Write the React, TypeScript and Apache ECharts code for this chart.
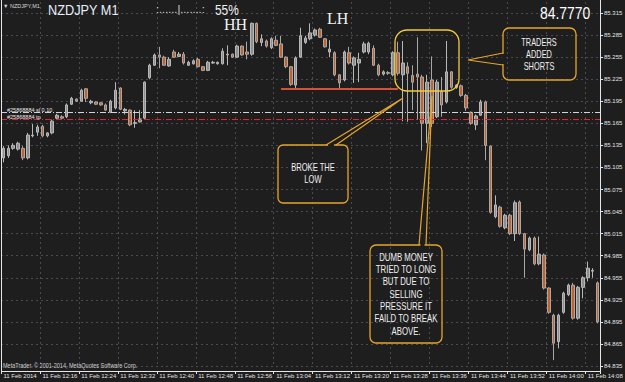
import React, { useEffect, useRef } from 'react';
import * as echarts from 'echarts';

const BG = '#1e1e1e';
const GRIDC = '#4a4a52';

// minute categories, 11 Feb 2014
const times = [
  '12:08','12:09','12:10','12:11','12:12','12:13','12:14','12:15','12:16','12:17',
  '12:18','12:19','12:20','12:21','12:22','12:23','12:24','12:25','12:26','12:27',
  '12:28','12:29','12:30','12:31','12:32','12:33','12:34','12:35','12:36','12:37',
  '12:38','12:39','12:40','12:41','12:42','12:43','12:44','12:45','12:46','12:47',
  '12:48','12:49','12:50','12:51','12:52','12:53','12:54','12:55','12:56','12:57',
  '12:58','12:59','13:00','13:01','13:02','13:03','13:04','13:05','13:06','13:07',
  '13:08','13:09','13:10','13:11','13:12','13:13','13:14','13:15','13:16','13:17',
  '13:18','13:19','13:20','13:21','13:22','13:23','13:24','13:25','13:26','13:27',
  '13:28','13:29','13:30','13:31','13:32','13:33','13:34','13:35','13:36','13:37',
  '13:38','13:39','13:40','13:41','13:42','13:43','13:44','13:45','13:46','13:47',
  '13:48','13:49','13:50','13:51','13:52','13:53','13:54','13:55','13:56','13:57',
  '13:58','13:59','14:00','14:01','14:02','14:03','14:04','14:05','14:06','14:07',
  '14:08','14:09','14:10',
];

const opens = [
  85.118,85.121,85.131,85.130,85.131,85.118,85.148,85.153,85.161,85.148,
  85.152,85.172,85.174,85.174,85.191,85.198,85.195,85.212,85.193,85.194,
  85.193,85.190,85.180,85.186,85.213,85.182,85.183,85.165,85.167,85.172,
  85.227,85.244,85.258,85.255,85.243,85.262,85.256,85.259,85.244,85.246,
  85.252,85.242,85.237,85.247,85.246,85.246,85.258,85.259,85.255,85.270,
  85.262,85.259,85.301,85.275,85.277,85.268,85.278,85.273,85.255,85.242,
  85.217,85.255,85.275,85.280,85.285,85.293,85.280,85.262,85.261,85.231,
  85.224,85.261,85.244,85.247,85.262,85.262,85.267,85.244,85.232,85.234,
  85.231,85.261,85.231,85.242,85.230,85.232,85.228,85.165,85.224,85.174,
  85.208,85.194,85.235,85.214,85.216,85.203,85.180,85.163,85.176,85.194,
  85.134,85.038,85.051,85.023,85.040,85.015,85.058,85.015,84.993,85.009,
  84.974,84.986,84.941,84.904,84.868,84.908,84.932,84.945,84.900,84.942,
  84.955,84.964,84.948,
];
const highs = [
  85.134,85.135,85.138,85.140,85.134,85.152,85.164,85.163,85.163,85.153,
  85.170,85.178,85.176,85.192,85.201,85.199,85.212,85.213,85.197,85.195,
  85.194,85.192,85.197,85.221,85.214,85.186,85.184,85.183,85.183,85.222,
  85.246,85.260,85.269,85.257,85.255,85.265,85.262,85.262,85.250,85.252,
  85.254,85.243,85.250,85.250,85.249,85.267,85.271,85.260,85.272,85.271,
  85.276,85.302,85.302,85.286,85.279,85.282,85.284,85.284,85.256,85.243,
  85.256,85.295,85.284,85.301,85.294,85.295,85.281,85.278,85.263,85.232,
  85.264,85.269,85.256,85.261,85.276,85.276,85.271,85.246,85.237,85.236,
  85.263,85.276,85.277,85.248,85.244,85.282,85.231,85.231,85.256,85.224,
  85.228,85.277,85.236,85.218,85.218,85.205,85.181,85.177,85.197,85.196,
  85.135,85.067,85.053,85.042,85.042,85.060,85.060,85.016,85.011,85.011,
  85.011,84.988,84.942,84.906,84.906,84.936,84.947,84.948,84.944,84.957,
  84.977,84.968,84.950,
];
const lows = [
  85.112,85.118,85.129,85.128,85.115,85.116,85.146,85.148,85.146,85.146,
  85.150,85.170,85.171,85.172,85.190,85.194,85.194,85.194,85.191,85.190,
  85.189,85.182,85.179,85.184,85.183,85.177,85.161,85.159,85.166,85.170,
  85.225,85.243,85.240,85.243,85.242,85.254,85.255,85.245,85.243,85.245,
  85.241,85.236,85.236,85.246,85.245,85.245,85.244,85.254,85.254,85.257,
  85.252,85.257,85.274,85.270,85.268,85.266,85.270,85.254,85.240,85.216,
  85.213,85.254,85.273,85.278,85.283,85.281,85.268,85.255,85.229,85.213,
  85.222,85.245,85.220,85.221,85.260,85.259,85.243,85.229,85.230,85.231,
  85.229,85.230,85.168,85.167,85.183,85.170,85.128,85.138,85.160,85.172,
  85.174,85.192,85.212,85.212,85.201,85.182,85.163,85.156,85.175,85.115,
  85.042,85.036,85.023,85.021,85.013,85.005,85.013,84.955,84.991,84.972,
  84.972,84.939,84.906,84.843,84.859,84.906,84.930,84.898,84.898,84.927,
  84.950,84.955,84.893,
];
const closes = [
  85.131,85.131,85.135,85.138,85.118,85.149,85.149,85.160,85.148,85.152,
  85.168,85.176,85.172,85.190,85.199,85.195,85.210,85.199,85.195,85.191,
  85.190,85.183,85.195,85.210,85.184,85.184,85.163,85.166,85.171,85.221,
  85.244,85.258,85.255,85.244,85.252,85.255,85.259,85.247,85.248,85.250,
  85.242,85.237,85.248,85.248,85.248,85.263,85.259,85.255,85.270,85.258,
  85.259,85.301,85.276,85.280,85.270,85.280,85.271,85.255,85.242,85.218,
  85.254,85.284,85.281,85.288,85.292,85.282,85.269,85.266,85.231,85.220,
  85.262,85.247,85.254,85.252,85.273,85.274,85.244,85.231,85.235,85.233,
  85.261,85.233,85.247,85.233,85.221,85.228,85.165,85.221,85.165,85.221,
  85.190,85.235,85.214,85.217,85.203,85.186,85.165,85.175,85.194,85.135,
  85.044,85.054,85.025,85.040,85.015,85.057,85.015,84.994,85.009,84.974,
  84.987,84.941,84.908,84.866,84.904,84.934,84.945,84.900,84.942,84.955,
  84.968,84.965,84.895,
];

// price axis
const priceMin = 84.835;
const priceMax = 85.33;
const priceStep = 0.03;

// horizontal levels
const orderPrice = 85.1773;
const stopPrice = 85.1705;
const supportPrice = 85.2117;
const supportFrom = '13:05';
const supportTo = '13:29';

const SANS = "'Liberation Sans', Arial, sans-serif";
const SERIF = "'Liberation Serif', 'Times New Roman', serif";
const YEL = '#f2cc3a';
const ORG = '#e6a52a';

function txt(text: string, x: number, y: number, size: number, o: any = {}) {
  return {
    type: 'text',
    x,
    y,
    scaleX: o.sx ?? 1,
    z: 110,
    silent: true,
    style: {
      text,
      fill: o.fill ?? '#f0f0f0',
      fontSize: size,
      fontFamily: o.family ?? SANS,
      fontWeight: o.weight ?? 'normal',
      align: o.align ?? 'left',
      textAlign: o.align ?? 'left',
      verticalAlign: 'middle',
      textVerticalAlign: 'middle',
    },
  };
}

function box(x: number, y: number, w: number, h: number, r: number, color: string) {
  return {
    type: 'rect',
    z: 100,
    silent: true,
    shape: { x, y, width: w, height: h, r },
    style: { fill: 'none', stroke: color, lineWidth: 1.3 },
  };
}

function eraser(x1: number, y1: number, x2: number, y2: number) {
  return { type: 'line', z: 101, silent: true, shape: { x1, y1, x2, y2 }, style: { stroke: BG, lineWidth: 2.5 } };
}

function pointer(points: number[][], color: string) {
  return { type: 'polyline', z: 102, silent: true, shape: { points }, style: { fill: 'none', stroke: color, lineWidth: 1.2 } };
}

function frameLine(x1: number, y1: number, x2: number, y2: number) {
  return { type: 'line', z: 90, silent: true, shape: { x1, y1, x2, y2 }, style: { stroke: '#e6e6e6', lineWidth: 1 } };
}

export default function App() {
  const ref = useRef<HTMLDivElement>(null);

  useEffect(() => {
    document.body.style.margin = '0';
    const chart = echarts.init(ref.current as HTMLDivElement, null, { renderer: 'svg' });

    const data = opens.map((o, i) => [o, closes[i], lows[i], highs[i]]);

    const dumbLines = ['DUMB MONEY', 'TRIED TO LONG', 'BUT DUE TO', 'SELLING', 'PRESSURE IT', 'FAILD TO BREAK', 'ABOVE.'];

    const elements: any[] = [
      frameLine(1.5, 0, 1.5, 371.5),
      frameLine(1.5, 371.5, 600.5, 371.5),
      frameLine(600.5, 0, 600.5, 371.5),
      txt('\u25BC NZDJPY,M1', 3, 6, 5.5, { fill: '#d8d8d8' }),
      txt('NZDJPY M1', 48, 10, 15, { sx: 0.85, fill: '#e6eefa' }),
      txt(':......|.......:', 156, 9, 11, { fill: '#d8d8d8' }),
      txt('55%', 215, 10, 14, { sx: 0.85, fill: '#f0f0f0' }),
      txt('84.7770', 540, 13, 16, { sx: 0.87, fill: '#ffffff' }),
      txt('HH', 224, 24, 16, { family: SERIF, fill: '#f2f2f2' }),
      txt('LH', 327, 18.5, 16, { family: SERIF, fill: '#f2f2f2' }),
      txt('#25868884 sl 0.10', 7, 110, 5.5, { fill: '#e8e8e8' }),
      txt('#25868884 tp', 7, 116.5, 5.5, { fill: '#e8e8e8' }),
      txt('MetaTrader. \u00A9 2001-2014, MetaQuotes Software Corp.', 3, 365.5, 6.5, { sx: 0.85, fill: '#d0d0d0' }),
      // candle highlight
      box(395, 30, 64, 61, 12, YEL),
      // TRADERS ADDED SHORTS
      box(503, 28, 73, 52, 6, ORG),
      eraser(503, 54, 503, 64),
      pointer([[503, 53], [468, 60], [503, 65]], ORG),
      txt('TRADERS', 539, 42.5, 10, { align: 'center', sx: 0.74 }),
      txt('ADDED', 539, 54.5, 10, { align: 'center', sx: 0.74 }),
      txt('SHORTS', 539, 66.5, 10, { align: 'center', sx: 0.74 }),
      // BROKE THE LOW
      box(278, 145, 70, 58, 5, ORG),
      eraser(328, 145, 334, 145),
      pointer([[326, 145], [403, 98], [336, 145]], ORG),
      txt('BROKE THE', 313, 167.5, 10, { align: 'center', sx: 0.76 }),
      txt('LOW', 313, 179.5, 10, { align: 'center', sx: 0.76 }),
      // DUMB MONEY
      box(370, 245, 72, 98, 6, ORG),
      eraser(420.5, 245, 424.5, 245),
      pointer([[419, 245], [432, 96], [426, 245]], ORG),
      ...dumbLines.map((t, i) => txt(t, 406, 257.5 + i * 12.3, 10, { align: 'center', sx: 0.78 })),
    ];

    const option: any = {
      animation: false,
      backgroundColor: BG,
      grid: { left: 1, right: 25, top: 2, bottom: 16, containLabel: false, outerBoundsMode: 'none' },
      xAxis: {
        type: 'category',
        data: times,
        boundaryGap: true,
        offset: 5,
        axisLine: { show: false },
        axisTick: { show: true, interval: 7, length: 3, lineStyle: { color: '#e6e6e6' } },
        axisLabel: {
          interval: 7,
          hideOverlap: false,
          color: '#e4e4e4',
          fontSize: 6,
          fontFamily: SANS,
          align: 'left',
          margin: 2,
          formatter: (v: string, i: number) => (i === 0 ? '11 Feb 2014' : '11 Feb ' + v),
        },
        splitLine: { show: true, interval: 7, lineStyle: { color: GRIDC, type: [2, 3], width: 1 } },
      },
      yAxis: {
        type: 'value',
        position: 'right',
        min: priceMin,
        max: priceMax,
        interval: priceStep,
        scale: true,
        axisLine: { show: false },
        axisTick: { show: true, length: 3, lineStyle: { color: '#e6e6e6' } },
        axisLabel: {
          hideOverlap: false,
          color: '#e4e4e4',
          fontSize: 6,
          fontFamily: SANS,
          margin: 4,
          showMaxLabel: false,
          formatter: (v: number) => v.toFixed(3),
        },
        splitLine: { show: true, showMaxLine: false, lineStyle: { color: GRIDC, type: [2, 3], width: 1 } },
      },
      series: [
        {
          type: 'candlestick',
          data,
          barWidth: 3,
          itemStyle: {
            color: '#8e8e8e',
            color0: '#c4622a',
            borderColor: '#b8b8b8',
            borderColor0: '#a8a8a8',
            borderWidth: 1,
          },
          markLine: {
            silent: true,
            symbol: ['none', 'none'],
            label: { show: false },
            data: [
              { yAxis: orderPrice, lineStyle: { color: '#d4d4d4', type: [6, 2, 1, 2], width: 1 } },
              { yAxis: stopPrice, lineStyle: { color: '#e3232a', type: [6, 2, 1, 2], width: 1 } },
              [
                { coord: [supportFrom, supportPrice], lineStyle: { color: '#d6503a', type: 'solid', width: 2 } },
                { coord: [supportTo, supportPrice], lineStyle: { color: '#d6503a', type: 'solid', width: 2 } },
              ],
            ],
          },
        },
      ],
      graphic: { elements },
    };

    chart.setOption(option);
    return () => chart.dispose();
  }, []);

  return (
    <div
      ref={ref}
      style={{ position: 'absolute', left: 0, top: 0, width: 625, height: 382, background: BG }}
    />
  );
}
